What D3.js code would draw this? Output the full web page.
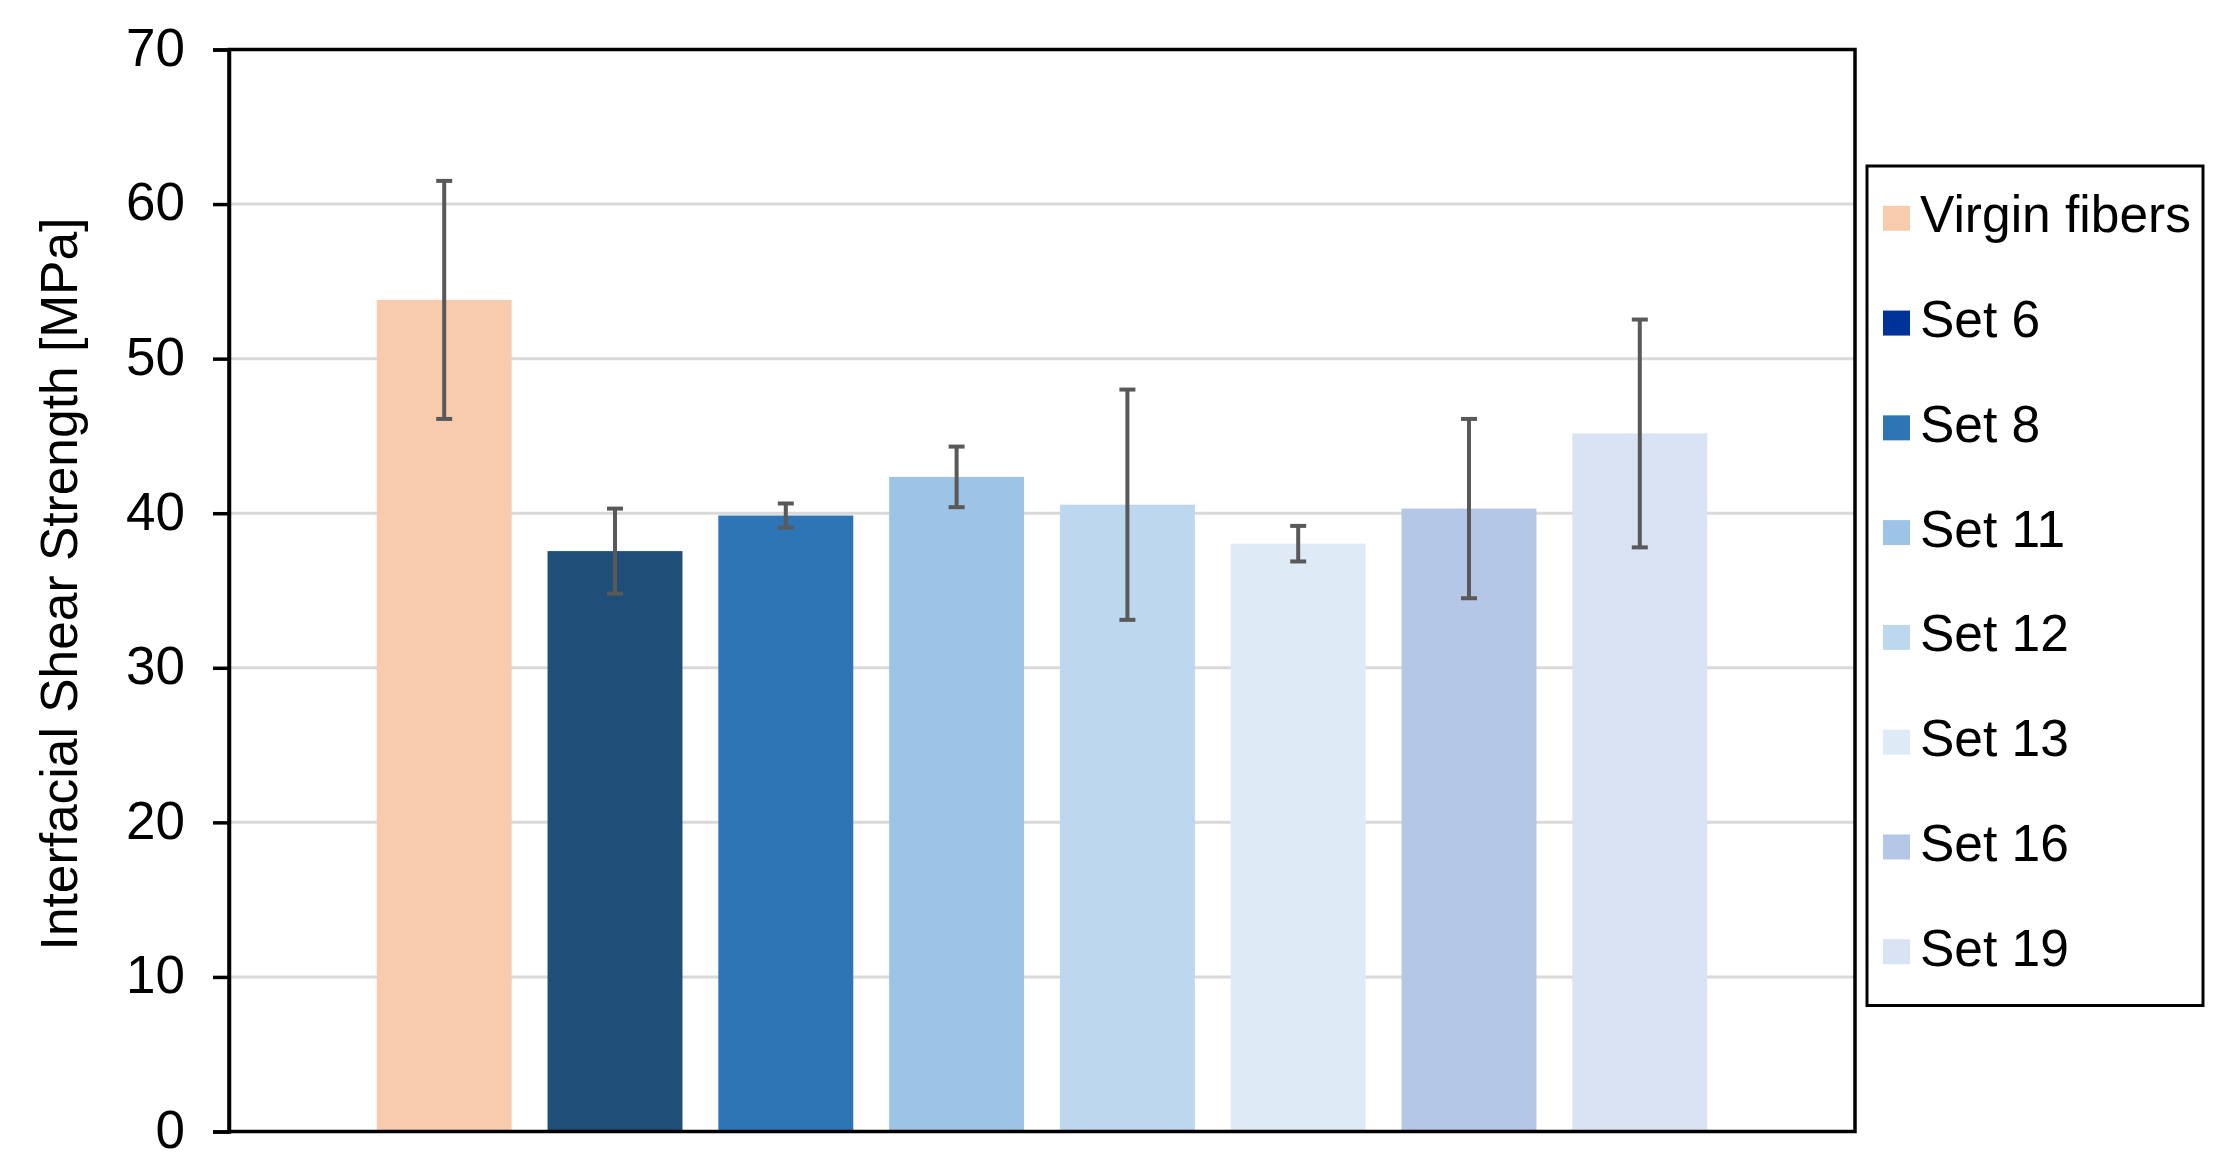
<!DOCTYPE html>
<html>
<head>
<meta charset="utf-8">
<script src="https://cdn.jsdelivr.net/npm/d3@7"></script>
<style>
  html, body { margin: 0; padding: 0; background: #ffffff; }
  svg { display: block; }
  text { font-family: Arial, "Liberation Sans", sans-serif; fill: #000; }
</style>
</head>
<body>
<svg id="chart" width="2234" height="1174"></svg>
<script>
// ---- data ----
const seriesNames = ["Virgin fibers", "Set 6", "Set 8", "Set 11", "Set 12", "Set 13", "Set 16", "Set 19"];
const meanValues  = [53.8, 37.55, 39.85, 42.35, 40.55, 38.03, 40.3, 45.16];
const errorValues = [7.7, 2.75, 0.78, 1.96, 7.45, 1.15, 5.8, 7.37];
const barColors    = ["#F8CBAD", "#1F4E79", "#2E75B6", "#9DC3E6", "#BDD7EE", "#DEEBF7", "#B4C7E7", "#DAE3F3"];
const legendColors = ["#F8CBAD", "#003399", "#2E75B6", "#9DC3E6", "#BDD7EE", "#DEEBF7", "#B4C7E7", "#DAE3F3"];
const yTicks = [0, 10, 20, 30, 40, 50, 60, 70];
const yTitle = "Interfacial Shear Strength [MPa]";

// ---- layout ----
const plot = { left: 229, right: 1855, top: 49.5, bottom: 1131.5 };
const svg = d3.select("#chart");

const x = d3.scaleBand()
  .domain(seriesNames)
  .range([plot.left, plot.right])
  .paddingInner(0.21)
  .paddingOuter(0.865);

const y = d3.scaleLinear()
  .domain([0, 70])
  .range([plot.bottom, plot.top]);

// gridlines
svg.append("g")
  .selectAll("line")
  .data(yTicks.filter(t => t > 0 && t < 70))
  .join("line")
  .attr("x1", plot.left).attr("x2", plot.right)
  .attr("y1", d => y(d)).attr("y2", d => y(d))
  .attr("stroke", "#d9d9d9")
  .attr("stroke-width", 3);

// bars
const data = seriesNames.map((n, i) => ({ name: n, v: meanValues[i], e: errorValues[i], c: barColors[i] }));
svg.append("g")
  .selectAll("rect")
  .data(data)
  .join("rect")
  .attr("x", d => x(d.name))
  .attr("width", x.bandwidth())
  .attr("y", d => y(d.v))
  .attr("height", d => y(0) - y(d.v))
  .attr("fill", d => d.c);

// error bars
const eg = svg.append("g").attr("stroke", "#595959").attr("stroke-width", 4);
const capHalf = 8;
data.forEach(d => {
  const cx = x(d.name) + x.bandwidth() / 2;
  eg.append("line").attr("x1", cx).attr("x2", cx).attr("y1", y(d.v + d.e)).attr("y2", y(d.v - d.e));
  eg.append("line").attr("x1", cx - capHalf).attr("x2", cx + capHalf).attr("y1", y(d.v + d.e)).attr("y2", y(d.v + d.e));
  eg.append("line").attr("x1", cx - capHalf).attr("x2", cx + capHalf).attr("y1", y(d.v - d.e)).attr("y2", y(d.v - d.e));
});

// plot border
svg.append("rect")
  .attr("x", plot.left).attr("y", plot.top)
  .attr("width", plot.right - plot.left).attr("height", plot.bottom - plot.top)
  .attr("fill", "none").attr("stroke", "#000").attr("stroke-width", 3.5);

// y axis
const yAxis = d3.axisLeft(y).tickValues(yTicks).tickSize(16).tickPadding(28).tickFormat(d3.format("d"));
const ga = svg.append("g").attr("transform", `translate(${plot.left},0)`).call(yAxis);
ga.select(".domain").attr("stroke", "#000").attr("stroke-width", 3.5);
ga.selectAll(".tick line").attr("stroke", "#000").attr("stroke-width", 3.5);
ga.selectAll(".tick text")
  .attr("font-size", 53)
  .attr("font-family", "Arial, 'Liberation Sans', sans-serif")
  .attr("fill", "#000")
  .attr("dy", "0.3em");

// y title
svg.append("text")
  .attr("transform", `translate(77,584) rotate(-90)`)
  .attr("text-anchor", "middle")
  .attr("font-size", 51.5)
  .text(yTitle);

// legend
const legend = { left: 1867, top: 166, right: 2203, bottom: 1005.5 };
svg.append("rect")
  .attr("x", legend.left).attr("y", legend.top)
  .attr("width", legend.right - legend.left).attr("height", legend.bottom - legend.top)
  .attr("fill", "#fff").attr("stroke", "#000").attr("stroke-width", 3);

const ly = d3.scalePoint().domain(seriesNames).range([218.3, 951.7]);
const lg = svg.append("g").selectAll("g").data(seriesNames).join("g")
  .attr("transform", d => `translate(0,${ly(d)})`);
lg.append("rect")
  .attr("x", 1883).attr("y", -12.5)
  .attr("width", 27).attr("height", 25)
  .attr("fill", (d, i) => legendColors[i]);
lg.append("text")
  .attr("x", 1920).attr("y", 14)
  .attr("font-size", 51.5)
  .text(d => d);
</script>
</body>
</html>
